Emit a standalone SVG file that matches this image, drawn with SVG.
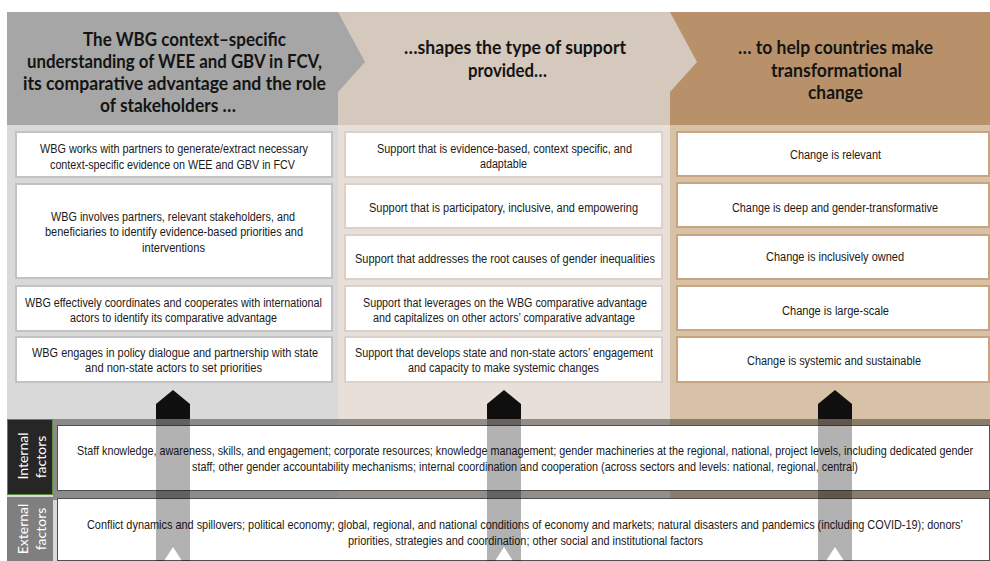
<svg xmlns="http://www.w3.org/2000/svg" width="990" height="561" viewBox="0 0 990 561">
<style>
.hd{font-family:Lato,"Open Sans","Liberation Sans",sans-serif;font-weight:bold;font-size:18px;fill:#141414;text-anchor:middle}
.tx{font-family:"Liberation Sans",Arial,sans-serif;font-size:12.5px;fill:#1a1a1a;text-anchor:middle}
.lb{font-family:Lato,"Open Sans","Liberation Sans",sans-serif;font-size:14px;fill:#ffffff;text-anchor:middle}
.b1{fill:#ffffff;stroke:#c2c2c2;stroke-width:2}
.b2{fill:#ffffff;stroke:#dcd1c8;stroke-width:2}
.b3{fill:#ffffff;stroke:#c9a47e;stroke-width:2}
.fb{fill:#ffffff;stroke:#505050;stroke-width:1}
.head{fill:#0f0f0f}
.shaft{fill:#000000;fill-opacity:0.3}
</style>
<rect width="990" height="561" fill="#ffffff"/>
<g id="backgrounds">
<rect x="7" y="125" width="331" height="436" fill="#d9d9d9"/>
<rect x="338" y="125" width="332" height="436" fill="#e7dfd8"/>
<rect x="670" y="125" width="320" height="436" fill="#d8c2a7"/>
</g>
<g id="header3">
<polygon points="670,12 990,12 990,125 670,125" fill="#b8916b"/>
<text class="hd" x="835.5" y="54" textLength="195" lengthAdjust="spacingAndGlyphs">… to help countries make</text>
<text class="hd" x="836.5" y="76.5" textLength="131" lengthAdjust="spacingAndGlyphs">transformational</text>
<text class="hd" x="835.5" y="99" textLength="55" lengthAdjust="spacingAndGlyphs">change</text>
</g>
<g id="header2">
<polygon points="338,12 670,12 697,62 670,92 670,125 338,125" fill="#d5c8bd"/>
<text class="hd" x="515" y="54" textLength="222" lengthAdjust="spacingAndGlyphs">…shapes the type of support</text>
<text class="hd" x="507.5" y="77" textLength="79" lengthAdjust="spacingAndGlyphs">provided…</text>
</g>
<g id="header1">
<polygon points="7,12 338,12 365,62 338,92 338,125 7,125" fill="#a6a6a6"/>
<text class="hd" x="184.5" y="46" textLength="203" lengthAdjust="spacingAndGlyphs">The WBG context–specific</text>
<text class="hd" x="174.5" y="68" textLength="295" lengthAdjust="spacingAndGlyphs">understanding of WEE and GBV in FCV,</text>
<text class="hd" x="174.5" y="90" textLength="303" lengthAdjust="spacingAndGlyphs">its comparative advantage and the role</text>
<text class="hd" x="168" y="112" textLength="136" lengthAdjust="spacingAndGlyphs">of stakeholders …</text>
</g>
<g id="c1b1">
<rect class="b1" x="16" y="132" width="316" height="45"/>
<text class="tx" x="174" y="153" textLength="268" lengthAdjust="spacingAndGlyphs">WBG works with partners to generate/extract necessary</text>
<text class="tx" x="172.5" y="168.5" textLength="245" lengthAdjust="spacingAndGlyphs">context-specific evidence on WEE and GBV in FCV</text>
</g>
<g id="c1b2">
<rect class="b1" x="16" y="184" width="316" height="94"/>
<text class="tx" x="173" y="221" textLength="244" lengthAdjust="spacingAndGlyphs">WBG involves partners, relevant stakeholders, and</text>
<text class="tx" x="174" y="236" textLength="258" lengthAdjust="spacingAndGlyphs">beneficiaries to identify evidence-based priorities and</text>
<text class="tx" x="173.5" y="252" textLength="63" lengthAdjust="spacingAndGlyphs">interventions</text>
</g>
<g id="c1b3">
<rect class="b1" x="16" y="286" width="316" height="45"/>
<text class="tx" x="173.5" y="306.5" textLength="297" lengthAdjust="spacingAndGlyphs">WBG effectively coordinates and cooperates with international</text>
<text class="tx" x="173.5" y="321.5" textLength="207" lengthAdjust="spacingAndGlyphs">actors to identify its comparative advantage</text>
</g>
<g id="c1b4">
<rect class="b1" x="16" y="337" width="316" height="45"/>
<text class="tx" x="175" y="357" textLength="286" lengthAdjust="spacingAndGlyphs">WBG engages in policy dialogue and partnership with state</text>
<text class="tx" x="173.5" y="372" textLength="177" lengthAdjust="spacingAndGlyphs">and non-state actors to set priorities</text>
</g>
<g id="c2b1">
<rect class="b2" x="345" y="132" width="317" height="45"/>
<text class="tx" x="504.5" y="152.5" textLength="255" lengthAdjust="spacingAndGlyphs">Support that is evidence-based, context specific, and</text>
<text class="tx" x="503.5" y="167.5" textLength="47" lengthAdjust="spacingAndGlyphs">adaptable</text>
</g>
<g id="c2b2">
<rect class="b2" x="345" y="184" width="317" height="44"/>
<text class="tx" x="503.5" y="211.5" textLength="269" lengthAdjust="spacingAndGlyphs">Support that is participatory, inclusive, and empowering</text>
</g>
<g id="c2b3">
<rect class="b2" x="345" y="235" width="317" height="44"/>
<text class="tx" x="505" y="262.5" textLength="300" lengthAdjust="spacingAndGlyphs">Support that addresses the root causes of  gender inequalities</text>
</g>
<g id="c2b4">
<rect class="b2" x="345" y="286" width="317" height="45"/>
<text class="tx" x="505" y="306.5" textLength="284" lengthAdjust="spacingAndGlyphs">Support that leverages on the WBG comparative advantage</text>
<text class="tx" x="504" y="321.5" textLength="262" lengthAdjust="spacingAndGlyphs">and capitalizes on other actors’ comparative advantage</text>
</g>
<g id="c2b5">
<rect class="b2" x="345" y="337" width="317" height="45"/>
<text class="tx" x="504" y="357" textLength="298" lengthAdjust="spacingAndGlyphs">Support that develops state and non-state actors’ engagement</text>
<text class="tx" x="503.5" y="372" textLength="191" lengthAdjust="spacingAndGlyphs">and capacity to make systemic changes</text>
</g>
<g id="c3b1">
<rect class="b3" x="677" y="132" width="312" height="44"/>
<text class="tx" x="835.5" y="158.5" textLength="91" lengthAdjust="spacingAndGlyphs">Change is relevant</text>
</g>
<g id="c3b2">
<rect class="b3" x="677" y="183" width="312" height="44"/>
<text class="tx" x="835" y="211.5" textLength="206" lengthAdjust="spacingAndGlyphs">Change is deep and gender-transformative</text>
</g>
<g id="c3b3">
<rect class="b3" x="677" y="235" width="312" height="44"/>
<text class="tx" x="835" y="261" textLength="138" lengthAdjust="spacingAndGlyphs">Change is inclusively owned</text>
</g>
<g id="c3b4">
<rect class="b3" x="677" y="286" width="312" height="44"/>
<text class="tx" x="835.5" y="314.5" textLength="107" lengthAdjust="spacingAndGlyphs">Change is large-scale</text>
</g>
<g id="c3b5">
<rect class="b3" x="677" y="337" width="312" height="45"/>
<text class="tx" x="834" y="364.5" textLength="174" lengthAdjust="spacingAndGlyphs">Change is systemic and sustainable</text>
</g>
<g id="factor-band">
<rect x="53" y="419" width="937" height="81" fill="#000000" fill-opacity="0.36"/>
</g>
<g id="internal-label">
<rect x="7.5" y="419.5" width="45" height="75" fill="#262626" stroke="#5e8a3c" stroke-width="1"/>
<text class="lb" transform="translate(28,456) rotate(-90)">Internal</text>
<text class="lb" transform="translate(45.5,457) rotate(-90)">factors</text>
</g>
<g id="internal-factors">
<rect class="fb" x="57.5" y="425.5" width="932" height="65"/>
<text class="tx" transform="translate(525,455) scale(0.8,1)" x="0" y="0" textLength="1120" lengthAdjust="spacingAndGlyphs">Staff knowledge, awareness, skills, and engagement; corporate resources; knowledge management; gender machineries at the regional, national, project levels, including dedicated gender</text>
<text class="tx" x="525" y="470.5" textLength="666" lengthAdjust="spacingAndGlyphs">staff; other gender accountability mechanisms; internal coordination and cooperation (across sectors and levels: national, regional, central)</text>
</g>
<g id="external-label">
<rect x="7" y="497" width="46" height="64" fill="#7f7f7f"/>
<text class="lb" transform="translate(28,529) rotate(-90)">External</text>
<text class="lb" transform="translate(45.5,529) rotate(-90)">factors</text>
</g>
<g id="external-factors">
<rect class="fb" x="57.5" y="498.5" width="932" height="62"/>
<text class="tx" transform="translate(525,529) scale(0.8,1)" x="0" y="0" textLength="1095" lengthAdjust="spacingAndGlyphs">Conflict dynamics and spillovers; political economy; global, regional, and national conditions of economy and markets; natural disasters and pandemics (including COVID-19); donors’</text>
<text class="tx" x="525.5" y="545" textLength="355" lengthAdjust="spacingAndGlyphs">priorities, strategies and coordination; other social and institutional factors</text>
</g>
<g id="connectors">
<polygon class="head" points="156,404 173,390 190,404 190,419 156,419"/>
<polygon class="shaft" points="156,419 190,419 190,561 182,561 173,547 164,561 156,561"/>
<polygon class="head" points="487,404 504,390 521,404 521,419 487,419"/>
<polygon class="shaft" points="487,419 521,419 521,561 513,561 504,547 495,561 487,561"/>
<polygon class="head" points="818,404 835,390 852,404 852,419 818,419"/>
<polygon class="shaft" points="818,419 852,419 852,561 844,561 835,547 826,561 818,561"/>
</g>
</svg>
